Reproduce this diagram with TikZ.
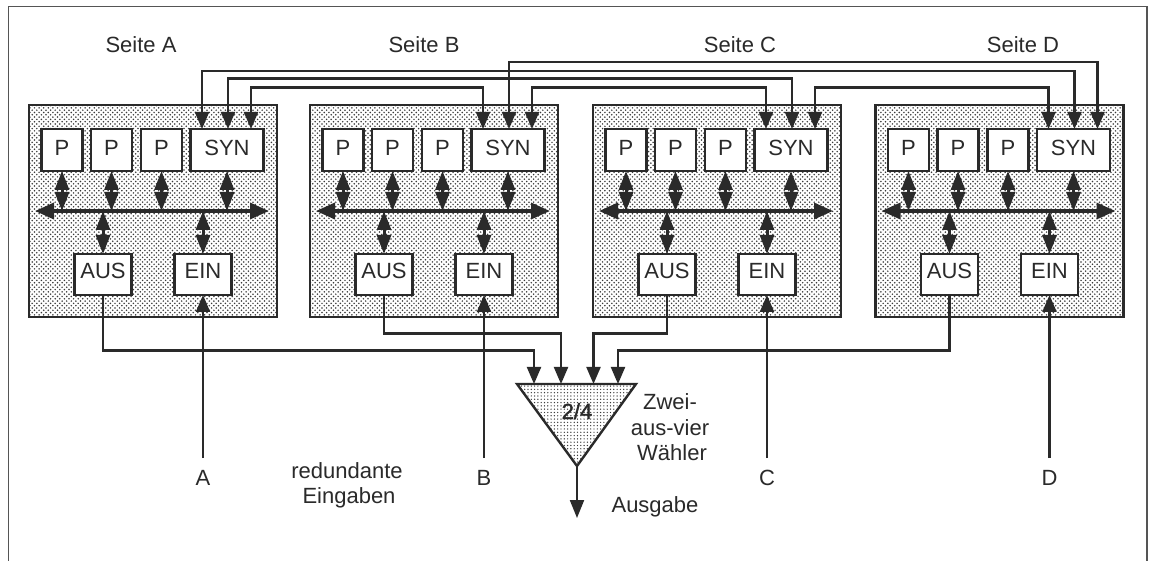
\documentclass[tikz,border=0pt]{standalone}
\usepackage{fontspec}
\setmainfont{Liberation Sans}
\usetikzlibrary{arrows.meta,patterns}
\definecolor{ink}{HTML}{2A2A2A}
\definecolor{dotc}{HTML}{3A3A3A}
\pgfdeclarepatternformonly{stipA}{\pgfqpoint{-1pt}{-1pt}}{\pgfqpoint{5.5pt}{5.5pt}}{\pgfqpoint{4.6pt}{4.6pt}}{
  \pgfpathcircle{\pgfqpoint{0pt}{0pt}}{0.85pt}
  \pgfpathcircle{\pgfqpoint{2.3pt}{2.3pt}}{0.85pt}
  \pgfusepath{fill}}
\pgfdeclarepatternformonly{stipB}{\pgfqpoint{-1pt}{-1pt}}{\pgfqpoint{4pt}{4pt}}{\pgfqpoint{3.3pt}{3.3pt}}{
  \pgfpathcircle{\pgfqpoint{0pt}{0pt}}{0.7pt}
  \pgfusepath{fill}}
\tikzset{
  txt/.style={font=\fontsize{22}{25}\selectfont,text=ink},
  side/.style={draw=ink,line width=2.4pt,pattern=stipA,pattern color=dotc,anchor=north west,
     minimum width=248pt,minimum height=212pt,inner sep=0pt,outer sep=0pt},
  unit/.style={txt,draw=ink,line width=2.2pt,fill=white,anchor=north west,inner sep=0pt,outer sep=0pt,
     text height=16pt,text depth=0pt},
  proc/.style={unit,minimum width=41pt,minimum height=42pt},
  syn/.style={unit,minimum width=73pt,minimum height=42pt},
  io/.style={unit,minimum width=57pt,minimum height=41pt},
  label/.style={txt,anchor=base,inner sep=0pt},
  dbl/.style={draw=ink,line width=3pt,{Triangle[width=14pt,length=19pt]}-{Triangle[width=14pt,length=19pt]}},
  busline/.style={draw=ink,line width=3.4pt,{Triangle[width=16pt,length=19pt]}-{Triangle[width=16pt,length=19pt]}},
  wire/.style={draw=ink,line width=2.1pt,line join=miter},
  wiredbl/.style={wire,{Triangle[width=14pt,length=17pt]}-{Triangle[width=14pt,length=17pt]}},
  wirein/.style={wire,-{Triangle[width=14pt,length=17pt]}},
}
\begin{document}
\begin{tikzpicture}[x=1pt,y=-1pt]
\useasboundingbox (0,0) rectangle (1149,561);
\fill[white] (0,0) rectangle (1149,561);
\draw[draw=ink!80,line width=1.5pt] (8.5,561) -- (8.5,6.5) -- (1147,6.5) -- (1147,561);

\foreach \s/\x in {a/29,b/310,c/593,d/875.5}{
  \node[side] (box\s) at (\x,105) {};
  \node[proc] (pa\s) at (\x+12.5,129) {\raisebox{2pt}{P}};
  \node[proc] (pb\s) at (\x+62,129) {\raisebox{2pt}{P}};
  \node[proc] (pc\s) at (\x+112,129) {\raisebox{2pt}{P}};
  \node[syn]  (syn\s) at (\x+161.5,129) {\raisebox{2pt}{SYN}};
  \node[io]   (aus\s) at (\x+45.5,254) {\raisebox{3.5pt}{AUS}};
  \node[io]   (ein\s) at (\x+145.5,254) {\raisebox{3.5pt}{EIN}};
  \coordinate (bl\s) at (\x+6,211);
  \coordinate (br\s) at (\x+240,211);
  \coordinate (ta\s) at (\x+173,129);
  \coordinate (tb\s) at (\x+199,129);
  \coordinate (tc\s) at (\x+222,129);
  \draw[busline] (bl\s) -- (br\s);
  \foreach \n in {pa,pb,pc,syn}{
    \draw[dbl] (\n\s.south) -- (\n\s.south |- bl\s);
  }
  \foreach \n in {aus,ein}{
    \draw[dbl] (\n\s.north) -- (\n\s.north |- bl\s);
  }
}

% links between the SYN units
\coordinate (l62) at (0,62);
\coordinate (l71) at (0,71);
\coordinate (l78) at (0,78.5);
\coordinate (l87) at (0,87.5);
\draw[wiredbl] (tbb) -- (tbb |- l62) -- (tcd |- l62) -- (tcd);
\draw[wiredbl] (taa) -- (taa |- l71) -- (tbd |- l71) -- (tbd);
\draw[wiredbl] (tba) -- (tba |- l78) -- (tbc |- l78) -- (tbc);
\draw[wiredbl] (tca) -- (tca |- l87) -- (tab |- l87) -- (tab);
\draw[wiredbl] (tcb) -- (tcb |- l87) -- (tac |- l87) -- (tac);
\draw[wiredbl] (tcc) -- (tcc |- l87) -- (tad |- l87) -- (tad);

% voter
\coordinate (v1) at (517,384);
\coordinate (v2) at (636,384);
\coordinate (v3) at (577,466);
\draw[draw=ink,line width=2.4pt,line join=miter,pattern=stipB,pattern color=dotc] (v1) -- (v2) -- (v3) -- cycle;
\node[label] (vt) at (577,419) {\addfontfeatures{FakeBold=1.5}2/4};

\coordinate (i1) at (534,384);
\coordinate (i2) at (561,384);
\coordinate (i3) at (593.5,384);
\coordinate (i4) at (618,384);
\coordinate (y1) at (0,350.5);
\coordinate (y2) at (0,333.5);
\draw[wirein] (ausa.south) -- (ausa.south |- y1) -- (i1 |- y1) -- (i1);
\draw[wirein] (ausb.south) -- (ausb.south |- y2) -- (i2 |- y2) -- (i2);
\draw[wirein] (ausc.south) -- (ausc.south |- y2) -- (i3 |- y2) -- (i3);
\draw[wirein] (ausd.south) -- (ausd.south |- y1) -- (i4 |- y1) -- (i4);

% inputs
\foreach \s/\t in {a/A,b/B,c/C,d/D}{
  \coordinate (in\s) at (ein\s.south |- 0,458);
  \draw[wirein] (in\s) -- (ein\s.south);
  \node[label] (lab\s) at (in\s |- 0,485) {\t};
}

% output
\coordinate (out) at (577,518);
\draw[wire,-{Triangle[width=14pt,length=18pt]}] (v3) -- (out);

% texts
\node[label] (sa) at (141,52.5) {Seite A};
\node[label] (sb) at (424,52.5) {Seite B};
\node[label] (sc) at (740,52.5) {Seite C};
\node[label] (sd) at (1023,52.5) {Seite D};
\node[label] (r1) at (347,478) {redundante};
\node[label] (r2) at (349,503) {Eingaben};
\node[label] (z1) at (670,409) {Zwei-};
\node[label] (z2) at (670,435) {aus-vier};
\node[label] (z3) at (672,460) {Wähler};
\node[label] (ag) at (655,512) {Ausgabe};
\end{tikzpicture}
\end{document}
